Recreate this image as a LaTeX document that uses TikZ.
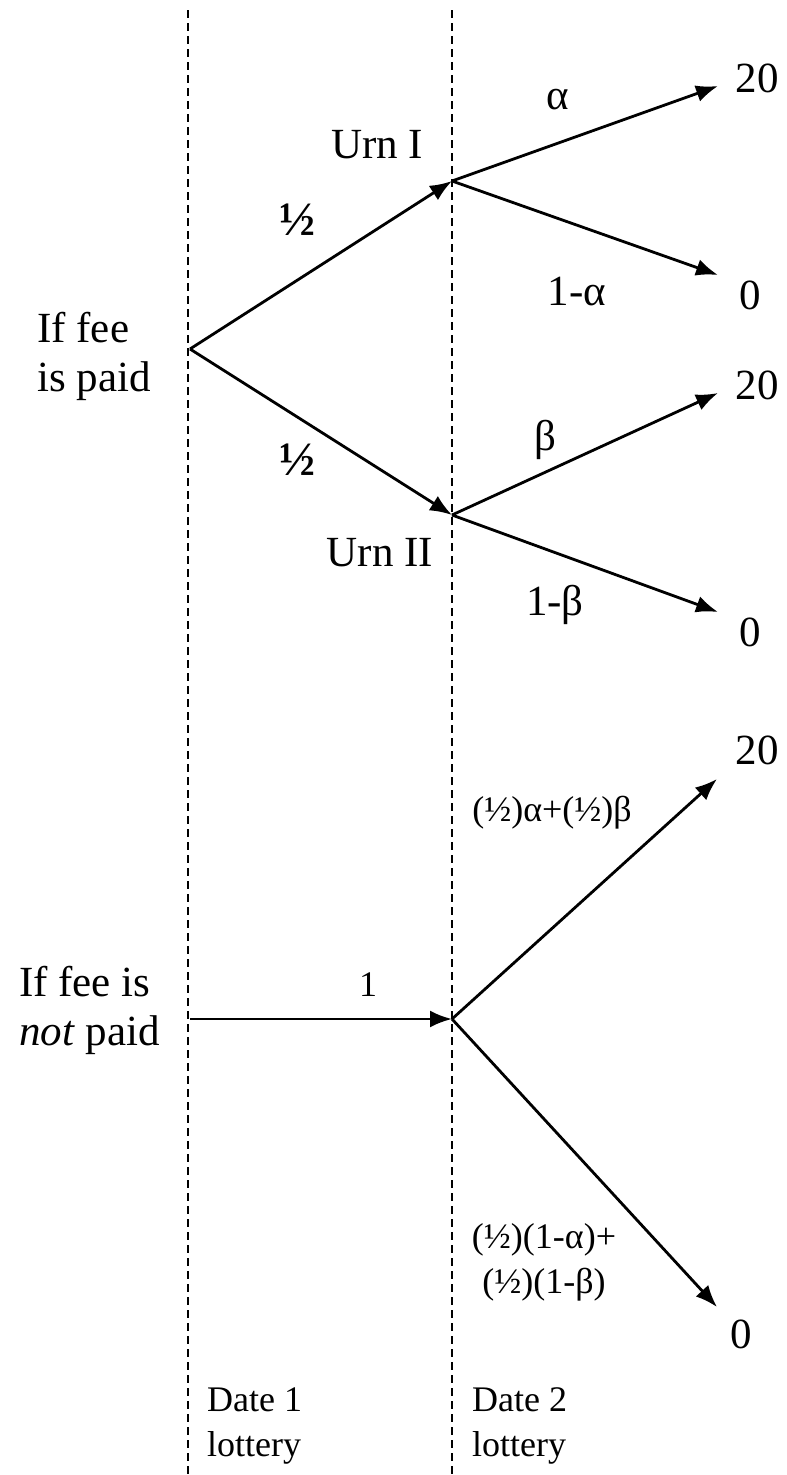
\documentclass[tikz,border=0pt]{standalone}
\usepackage{fontspec}
\setmainfont{Liberation Serif}
\usetikzlibrary{arrows.meta}
\begin{document}
\begin{tikzpicture}[x=1pt,y=-1pt,
  big/.style={font=\fontsize{43}{49}\selectfont, inner sep=0pt},
  small/.style={font=\fontsize{36}{45}\selectfont, inner sep=0pt},
  half/.style={font=\fontsize{48}{52}\selectfont\bfseries, inner sep=0pt},
  guide/.style={line width=2pt, dash pattern=on 8pt off 5pt},
  branch/.style={line width=2.8pt, -{Latex[length=22pt,width=17pt]}}]
\useasboundingbox (0,0) rectangle (787,1475);
% guide lines
\coordinate (g1t) at (188,10); \coordinate (g1b) at (188,1475);
\coordinate (g2t) at (452,10); \coordinate (g2b) at (452,1475);
\draw[guide] (g1t) -- (g1b);
\draw[guide] (g2t) -- (g2b);
% vertices
\coordinate (A) at (190,349);
\coordinate (U1) at (452,181);
\coordinate (U2) at (452,515);
\coordinate (B) at (190,1019);
\coordinate (C) at (452,1019);
\coordinate (t1) at (718,86);
\coordinate (t2) at (718,275);
\coordinate (t3) at (718,393);
\coordinate (t4) at (718,612);
\coordinate (t5) at (717,779);
\coordinate (t6) at (717,1307);
% arrows
\draw[branch] (A) -- (U1);
\draw[branch] (A) -- (U2);
\draw[branch] (U1) -- (t1);
\draw[branch] (U1) -- (t2);
\draw[branch] (U2) -- (t3);
\draw[branch] (U2) -- (t4);
\draw[branch] (B) -- (C);
\draw[branch] (C) -- (t5);
\draw[branch] (C) -- (t6);
% labels
\node[big, align=left, anchor=west] (paid) at (37,356) {If fee\\is paid};
\node[big, align=left, anchor=west] (notpaid) at (19,1010) {If fee is\\\textit{not} paid};
\node[big] (urn1) at (377,145) {Urn I};
\node[big] (urn2) at (380,553) {Urn II};
\node[half] (h1) at (297,220) {½};
\node[half] (h2) at (297,460) {½};
\node[big] (la) at (558,100) {α};
\node[big] (l1a) at (577,292) {1-α};
\node[big] (lb) at (545,440) {β};
\node[big] (l1b) at (555,605) {1-β};
\node[big] (o1) at (757,78) {20};
\node[big] (o2) at (750,295) {0};
\node[big] (o3) at (757,385) {20};
\node[big] (o4) at (750,632) {0};
\node[big] (o5) at (757,750) {20};
\node[big] (o6) at (741,1334) {0};
\node[small] (one) at (368,985) {1};
\node[small] (mix1) at (552,813) {(½)α+(½)β};
\node[small, align=center] (mix2) at (544,1262) {(½)(1-α)+\\(½)(1-β)};
\node[small, align=left, anchor=west] (d1) at (207,1426) {Date 1\\lottery};
\node[small, align=left, anchor=west] (d2) at (472,1426) {Date 2\\lottery};
\end{tikzpicture}
\end{document}
